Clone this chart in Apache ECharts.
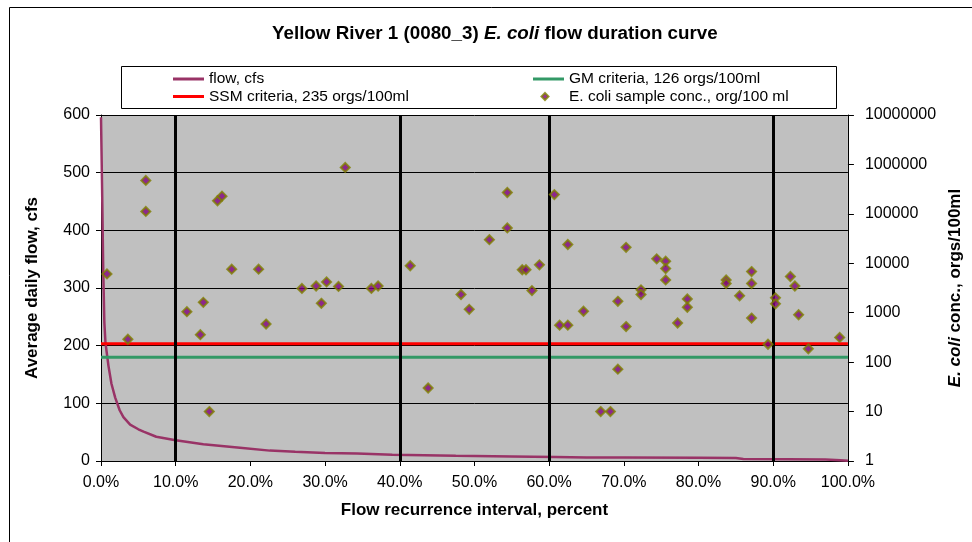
<!doctype html>
<html>
<head>
<meta charset="UTF-8">
<title>Yellow River 1 E. coli flow duration curve</title>
<script src="https://cdn.jsdelivr.net/npm/echarts@6/dist/echarts.min.js"></script>
<style>
	html, body { margin: 0; padding: 0; background: #fff; }
	#main { width: 972px; height: 542px; }
</style>
</head>
<body>
<div id="main"></div>
<script type="text/javascript">
	// flow duration curve (percent of time exceeded, cfs)
	var flowPct = [0, 0.15, 0.3, 0.45, 0.6, 0.8, 1.0, 1.4, 1.9, 2.5, 3.0, 3.9, 5.0, 5.7, 7.4, 10, 13.7, 18.6, 22.6, 26, 30, 34.3, 39, 47.5, 55, 60.8, 65, 70, 80, 85, 86, 92, 97, 99, 100];
	var flowCfs = [596, 470, 330, 240, 205, 185, 165, 134, 110, 88, 76, 63, 55, 51, 42, 36, 29, 23, 18, 16, 14, 13, 11, 9, 8, 7, 6, 6, 5.5, 5, 3.5, 3, 2.5, 1.5, 0.5];

	// E. coli samples (flow recurrence percent, orgs/100ml)
	var samplePct = [0.8, 3.6, 6.0, 6.0, 11.5, 13.3, 13.7, 14.5, 15.6, 16.2, 17.5, 21.1, 22.1, 26.9, 28.8, 29.5, 30.2, 31.8, 32.7, 36.2, 37.1, 41.4, 43.8, 48.2, 49.3, 52.0, 54.4, 54.4, 56.4, 56.9, 57.7, 58.7, 60.7, 61.4, 62.5, 62.5, 64.6, 66.9, 68.2, 69.2, 69.2, 70.3, 70.3, 72.3, 72.3, 74.4, 75.6, 75.6, 75.6, 77.2, 78.5, 78.5, 83.7, 83.7, 85.5, 87.1, 87.1, 87.1, 89.3, 90.3, 90.3, 92.3, 92.9, 93.4, 94.7, 98.9];
	var sampleConc = [6100, 290, 475000, 112000, 1050, 360, 1620, 10, 184000, 228000, 7600, 7600, 590, 3100, 3470, 1550, 4200, 3400, 870000, 3100, 3470, 8900, 30, 2340, 1170, 30000, 270000, 52000, 7400, 7400, 2800, 9300, 245000, 560, 560, 24000, 1070, 10, 10, 72, 1700, 21000, 525, 2900, 2340, 12300, 11000, 7800, 4600, 620, 1900, 1290, 4600, 3900, 2200, 6800, 3900, 780, 230, 2000, 1510, 5400, 3470, 910, 186, 316];

	var ssmValue = 235; // single sample maximum
	var gmValue = 126;  // geometric mean
	var seasonBreaks = [10, 40, 60, 90];
	var xTicks = [0, 100];

	var font = 'Liberation Sans';
	var lineIcon = 'path://M0,0 L31,0 L31,3 L0,3 Z';
	// diamond inside a 31x7 box (the two moveTo points only set the box)
	var diamondIcon = 'path://M0,0 M31,7 M12,0 L15.5,3.5 L12,7 L8.5,3.5 Z';

	var flowData = flowPct.map(function (p, i) { return [p, flowCfs[i]]; });
	var sampleData = samplePct.map(function (p, i) { return [p, sampleConc[i]]; });

	var myChart = echarts.init(document.getElementById('main'), null, { renderer: 'canvas' });
	var option = {
		animation: false,
		backgroundColor: '#fff',
		textStyle: { fontFamily: font, color: '#000' },
		title: {
			text: '{a|Yellow River 1 (0080_3) }{b|E. coli}{a| flow duration curve}',
			left: 272,
			top: 24,
			padding: 0,
			textStyle: {
				rich: {
					a: { fontFamily: font, fontSize: 18.8, fontWeight: 'bold', color: '#000' },
					b: { fontFamily: font, fontSize: 18.8, fontWeight: 'bold', fontStyle: 'italic', color: '#000' }
				}
			}
		},
		graphic: [
			{ type: 'rect', left: 7, top: 5, shape: { width: 1000, height: 600 }, style: { fill: 'none', stroke: '#000', lineWidth: 1 }, z: -10 },
			{ type: 'rect', left: 121, top: 66, shape: { width: 715, height: 42 }, style: { fill: '#fff', stroke: '#000', lineWidth: 1 }, z: 0 }
		],
		legend: [
			{
				left: 173, top: 71, orient: 'vertical', padding: 0,
				itemWidth: 31, itemHeight: 7, itemGap: 1.5,
				textStyle: { fontFamily: font, fontSize: 15.5, color: '#000' },
				data: [
					{ name: 'flow, cfs', icon: lineIcon },
					{ name: 'SSM criteria, 235 orgs/100ml', icon: lineIcon }
				],
				z: 5
			},
			{
				left: 532, top: 71, orient: 'vertical', padding: 0,
				itemWidth: 31, itemHeight: 7, itemGap: 1.5,
				textStyle: { fontFamily: font, fontSize: 15.5, color: '#000' },
				data: [
					{ name: 'GM criteria, 126 orgs/100ml', icon: lineIcon },
					{ name: 'E. coli sample conc., org/100 ml', icon: diamondIcon }
				],
				z: 5
			}
		],
		grid: { left: 101, right: 119, top: 115, bottom: 81, show: true, backgroundColor: '#C0C0C0', borderWidth: 0 },
		xAxis: {
			type: 'value', min: xTicks[0], max: xTicks[1], interval: 10,
			name: 'Flow recurrence interval, percent', nameLocation: 'middle', nameGap: 41,
			nameTextStyle: { fontFamily: font, fontSize: 17, fontWeight: 'bold', color: '#000' },
			axisLine: { lineStyle: { color: '#000', width: 1 } },
			axisTick: { inside: false, length: 5, lineStyle: { color: '#000' } },
			axisLabel: { margin: 14, fontSize: 16, color: '#000', formatter: function (v) { return v.toFixed(1) + '%'; } },
			splitLine: { show: false }
		},
		yAxis: [
			{
				type: 'value', min: 0, max: 600, interval: 100, position: 'left',
				name: 'Average daily flow, cfs', nameLocation: 'middle', nameGap: 60, nameRotate: 90,
				nameTextStyle: { fontFamily: font, fontSize: 17, fontWeight: 'bold', color: '#000' },
				axisLine: { show: true, lineStyle: { color: '#000', width: 1 } },
				axisTick: { show: true, length: 5, lineStyle: { color: '#000' } },
				axisLabel: { margin: 11, fontSize: 16, color: '#000' },
				splitLine: { show: true, lineStyle: { color: '#000', width: 1 } }
			},
			{
				type: 'log', logBase: 10, min: 1, max: 10000000, splitNumber: 7, position: 'right',
				name: '{i|E. coli}{n| conc., orgs/100ml}', nameLocation: 'middle', nameGap: 99, nameRotate: 90,
				nameTextStyle: {
					rich: {
						i: { fontFamily: font, fontSize: 17, fontWeight: 'bold', fontStyle: 'italic', color: '#000' },
						n: { fontFamily: font, fontSize: 17, fontWeight: 'bold', color: '#000' }
					}
				},
				axisLine: { show: true, lineStyle: { color: '#000', width: 1 } },
				axisTick: { show: true, length: 6, lineStyle: { color: '#000' } },
				axisLabel: { margin: 17, fontSize: 16, color: '#000', formatter: function (v) { return String(Math.round(v)); } },
				splitLine: { show: false }
			}
		],
		series: [
			{
				name: 'flow, cfs', type: 'line', yAxisIndex: 0,
				data: flowData, symbol: 'none', showSymbol: false,
				lineStyle: { color: '#993366', width: 2.5 },
				itemStyle: { color: '#993366' },
				markLine: {
					silent: true, symbol: ['none', 'none'], label: { show: false },
					lineStyle: { color: '#000', width: 3, type: 'solid' },
					data: seasonBreaks.map(function (x) { return { xAxis: x }; })
				},
				z: 3
			},
			{
				name: 'SSM criteria, 235 orgs/100ml', type: 'line', yAxisIndex: 1,
				data: xTicks.map(function (x) { return [x, ssmValue]; }),
				symbol: 'none', lineStyle: { color: '#FF0000', width: 3 }, itemStyle: { color: '#FF0000' }, z: 4
			},
			{
				name: 'GM criteria, 126 orgs/100ml', type: 'line', yAxisIndex: 1,
				data: xTicks.map(function (x) { return [x, gmValue]; }),
				symbol: 'none', lineStyle: { color: '#339966', width: 3 }, itemStyle: { color: '#339966' }, z: 4
			},
			{
				name: 'E. coli sample conc., org/100 ml', type: 'scatter', yAxisIndex: 1,
				data: sampleData, symbol: 'diamond', symbolSize: 9,
				itemStyle: { color: '#800080', borderColor: '#808000', borderWidth: 2 },
				z: 6
			}
		]
	};
	myChart.setOption(option);
</script>
</body>
</html>
